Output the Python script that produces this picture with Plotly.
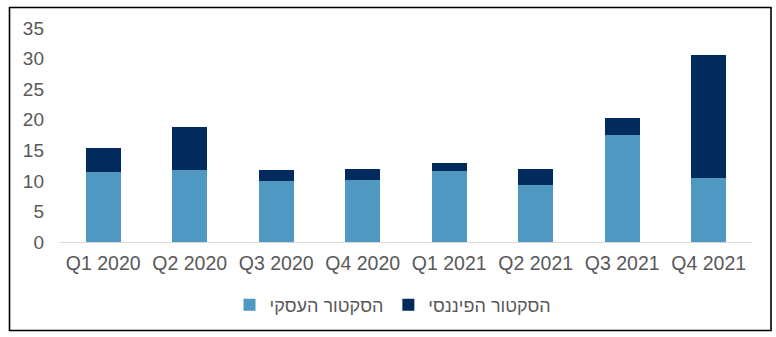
import plotly.graph_objects as go

# Quarterly totals split by sector
quarters = ["Q1 2020", "Q2 2020", "Q3 2020", "Q4 2020",
            "Q1 2021", "Q2 2021", "Q3 2021", "Q4 2021"]
business = [11.4, 11.7, 9.9, 10.2, 11.6, 9.4, 17.5, 10.4]
financial = [4.0, 7.1, 1.8, 1.7, 1.3, 2.6, 2.8, 20.2]
business_name = "הסקטור העסקי"
financial_name = "הסקטור הפיננסי"
y_ticks = [0, 5, 10, 15, 20, 25, 30, 35]

W, H = 776, 337
ML, MR, MT, MB = 60, 24, 28, 95

fig = go.Figure()
fig.add_bar(x=quarters, y=business, name=business_name,
            marker=dict(color="#4E98C2", line=dict(width=0)))
fig.add_bar(x=quarters, y=financial, name=financial_name,
            marker=dict(color="#022A5C", line=dict(width=0)))

pw = W - ML - MR
ph = H - MT - MB


def px_x(v):
    return (v - ML) / pw


def px_y(v):
    return (H - MB - v) / ph


fig.add_shape(type="rect", xref="paper", yref="paper",
              x0=px_x(9.5), x1=px_x(771), y0=px_y(7.5), y1=px_y(330.5),
              line=dict(color="black", width=1.6), fillcolor="rgba(0,0,0,0)")

fig.update_layout(
    width=W, height=H,
    margin=dict(l=ML, r=MR, t=MT, b=MB),
    barmode="stack", bargap=0.6,
    paper_bgcolor="white", plot_bgcolor="white",
    font=dict(family="Liberation Sans, Arial, sans-serif", color="#595959", size=19),
    xaxis=dict(showgrid=False, showline=True, linecolor="#D9D9D9", linewidth=1,
               ticks="", tickfont=dict(size=19.5), ticklabelstandoff=4),
    yaxis=dict(range=[0, 35], tickvals=y_ticks, showgrid=False, zeroline=False,
               showline=False, ticks="", tickfont=dict(size=19),
               ticklabelstandoff=15),
    legend=dict(orientation="h", x=px_x(393), xanchor="center", y=px_y(305),
                yanchor="middle", font=dict(size=18), itemwidth=30,
                traceorder="normal"),
    showlegend=True,
)

fig.write_html("out.html")
